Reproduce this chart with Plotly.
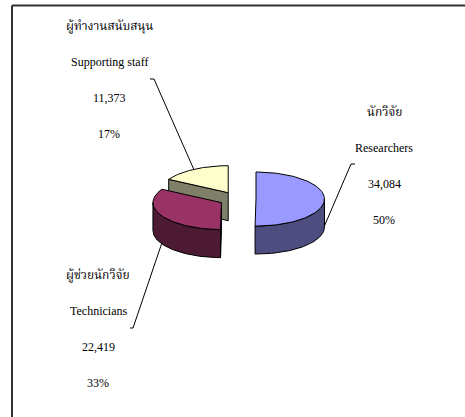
import numpy as np
import plotly.graph_objects as go

# ---- data ----
categories_th = ["นักวิจัย", "ผู้ช่วยนักวิจัย", "ผู้ทำงานสนับสนุน"]
categories_en = ["Researchers", "Technicians", "Supporting staff"]
values = [34084, 22419, 11373]
percent_labels = ["50%", "33%", "17%"]

# ---- style / geometry ----
top_colors = ["#9999FF", "#993366", "#FFFFCC"]
side_colors = ["#4D4D80", "#4D1A33", "#80806A"]
W, H = 465, 417
CX, CY = 237.5, 199.0
RX, RY, DEPTH = 68.5, 27.0, 28.0
EXPLODE = 0.27
FONT_LATIN = "Liberation Serif, Times New Roman, serif"
FONT_THAI = "Noto Serif Thai, Noto Sans Thai, Liberation Serif, serif"

# label block anchors (x centre, first-line y) and leader-line starts
label_pos = [(384, 112), (98, 275), (109, 26)]
leader_start = [((355, 164), (351, 164)), ((130, 328), (133, 328)), ((150, 79), (154, 79))]
LINE_STEP = 36

total = sum(values)
fracs = [v / total for v in values]
starts = np.cumsum([0] + fracs[:-1]) * 360.0
ends = np.cumsum(fracs) * 360.0


def rim(cx, cy, deg, dy=0.0):
    t = np.radians(deg)
    return cx + RX * np.sin(t), cy - RY * np.cos(t) + dy


fig = go.Figure()
centers = []
for i in range(3):
    mid = np.radians((starts[i] + ends[i]) / 2)
    cx = CX + EXPLODE * RX * np.sin(mid)
    cy = CY - EXPLODE * RY * np.cos(mid)
    centers.append((cx, cy))

# draw back to front: staff, technicians, researchers
for i in [2, 1, 0]:
    a, b = starts[i], ends[i]
    cx, cy = centers[i]
    lo, hi = max(a, 90), min(b, 270)
    if hi > lo:
        th = np.linspace(lo, hi, 60)
        xt, yt = rim(cx, cy, th)
        xb, yb = rim(cx, cy, th[::-1], DEPTH)
        fig.add_trace(go.Scatter(x=np.r_[xt, xb, xt[:1]], y=np.r_[yt, yb, yt[:1]],
                                 fill="toself", fillcolor=side_colors[i], mode="lines",
                                 line=dict(color="black", width=1), hoverinfo="skip"))
    if 180 < a < 360:
        x1, y1 = rim(cx, cy, a)
        fx = [cx, x1, x1, cx, cx]
        fy = [cy, y1, y1 + DEPTH, cy + DEPTH, cy]
        fig.add_trace(go.Scatter(x=fx, y=fy, fill="toself", fillcolor=side_colors[i],
                                 mode="lines", line=dict(color="black", width=1),
                                 hoverinfo="skip"))
    th = np.linspace(a, b, 80)
    xt, yt = rim(cx, cy, th)
    fig.add_trace(go.Scatter(x=np.r_[cx, xt, cx], y=np.r_[cy, yt, cy], fill="toself",
                             fillcolor=top_colors[i], mode="lines",
                             line=dict(color="black", width=1), hoverinfo="skip"))

# leader lines
for i in range(3):
    cx, cy = centers[i]
    mid = (starts[i] + ends[i]) / 2
    front = np.cos(np.radians(mid)) <= 0.01
    ex, ey = rim(cx, cy, mid, DEPTH * 0.95 if front else 0)
    (sx0, sy0), (sx1, sy1) = leader_start[i]
    fig.add_trace(go.Scatter(x=[sx0, sx1, ex], y=[sy0, sy1, ey], mode="lines",
                             line=dict(color="black", width=1), hoverinfo="skip"))

# labels
for i in range(3):
    lx, ly = label_pos[i]
    lines = [categories_th[i], categories_en[i], f"{values[i]:,}", percent_labels[i]]
    for k, txt in enumerate(lines):
        fam = FONT_THAI if k == 0 else FONT_LATIN
        size = 12 if k == 0 else 12
        fig.add_annotation(x=lx, y=ly + k * LINE_STEP, text=txt, showarrow=False,
                           xanchor="center", yanchor="middle",
                           font=dict(family=fam, size=size, color="black"))

# frame
fig.add_shape(type="line", x0=12, x1=W, y0=5.5, y1=5.5, line=dict(color="#333333", width=2))
fig.add_shape(type="line", x0=12, x1=12, y0=5.5, y1=H, line=dict(color="#333333", width=2))

fig.update_layout(width=W, height=H, margin=dict(l=0, r=0, t=0, b=0),
                  paper_bgcolor="white", plot_bgcolor="white", showlegend=False,
                  xaxis=dict(range=[0, W], visible=False, fixedrange=True),
                  yaxis=dict(range=[H, 0], visible=False, fixedrange=True))
fig.write_html("out.html", config={"displayModeBar": False},
               post_script="document.body.style.margin='0';document.body.style.overflow='hidden';")
